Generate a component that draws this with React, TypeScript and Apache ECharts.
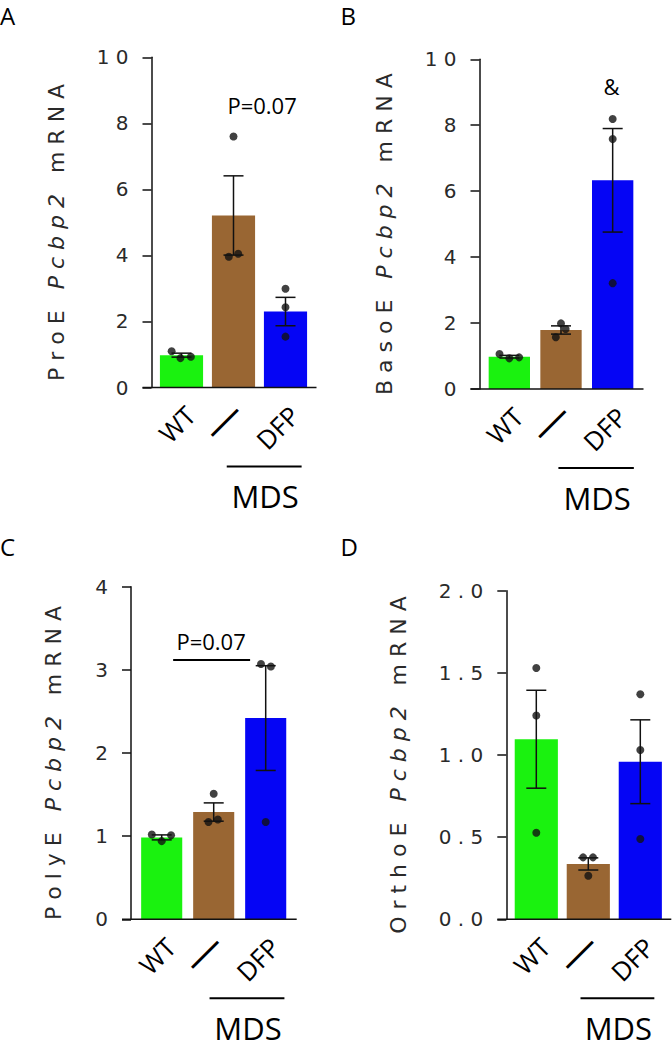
import React, { useEffect, useRef } from 'react';
import * as echarts from 'echarts';

// ---------- data ----------
const categories = ['WT', '—', 'DFP'];
const barColors = ['#1af20f', '#996633', '#0505f5'];
const panelLetters = ['A', 'B', 'C', 'D'];
const yTitlePrefix = ['ProE', 'BasoE', 'PolyE', 'OrthoE'];
const yMax = [10, 10, 4, 2];
const yInterval = [2, 2, 1, 0.5];
const yDecimals = [0, 0, 0, 1];

const meansA = [0.98, 5.21, 2.3];
const semsA = [0.06, 1.2, 0.43];
const dotsA = [[1.1, 0.89, 0.93], [7.6, 3.96, 4.05], [2.99, 2.43, 1.54]];
const jitterA = [[-0.19, -0.02, 0.18], [0, -0.09, 0.09], [0, 0, 0]];

const meansB = [0.98, 1.79, 6.33];
const semsB = [0.04, 0.125, 1.57];
const dotsB = [[1.06, 0.93, 0.96], [1.99, 1.82, 1.57], [8.19, 7.58, 3.21]];
const jitterB = [[-0.19, 0, 0.19], [0, 0.09, -0.1], [0, 0, 0]];

const meansC = [0.985, 1.29, 2.42];
const semsC = [0.03, 0.11, 0.63];
const dotsC = [[1.02, 0.94, 1.01], [1.51, 1.17, 1.2], [3.07, 3.04, 1.17]];
const jitterC = [[-0.19, 0, 0.18], [0, -0.1, 0.08], [-0.09, 0.1, 0]];

const meansD = [1.096, 0.337, 0.959];
const semsD = [0.298, 0.037, 0.255];
const dotsD = [[1.53, 1.24, 0.527], [0.377, 0.377, 0.265], [1.37, 1.03, 0.489]];
const jitterD = [[0, 0, 0], [-0.1, 0.09, 0], [0, 0, 0]];

const means = [meansA, meansB, meansC, meansD];
const sems = [semsA, semsB, semsC, semsD];
const dots = [dotsA, dotsB, dotsC, dotsD];
const jitters = [jitterA, jitterB, jitterC, jitterD];

// annotations (in axis units)
const mdsSpan = [[0.87, 2.31], [0.95, 2.41], [0.92, 2.36], [0.85, 2.27]];
const sigTexts = [
  { text: 'P=0.07', x: 1.55, y: 8.55 },
  { text: '&', x: 1.98, y: 9.2 },
  { text: 'P=0.07', x: 0.95, y: 3.345 },
  null,
];
const sigLines = [null, null, { x0: 0.22, x1: 1.7, y: 3.117 }, null];

// ---------- layout / style ----------
const grids = [
  { left: 155.5, top: 57.3, width: 156, height: 330.2, offset: 4, gap: '17%', nameGap: 84 },
  { left: 483.5, top: 59.3, width: 155, height: 329.7, offset: 4, gap: '20%', nameGap: 84 },
  { left: 135.7, top: 586.7, width: 156, height: 332.6, offset: 4.7, gap: '21%', nameGap: 67 },
  { left: 510.3, top: 590.7, width: 156, height: 328.6, offset: 4, gap: '17%', nameGap: 96.5 },
];
const letterPos = [[0, 15.8], [340.5, 15], [0, 546.8], [340.5, 546.3]];
const TICK = 9;
const CAP = 10;
const AXIS_COLOR = '#111';
const NBSP = '\u00A0';
const spaced = (s: string) => s.split('').join(NBSP);
const HUMAN = '"Open Sans", "Noto Sans", sans-serif';
const NUMF = '"DejaVu Sans", sans-serif';

function buildOption() {
  const xAxis: any[] = [];
  const yAxis: any[] = [];
  const series: any[] = [];
  const grid = grids.map((g) => ({ left: g.left, top: g.top, width: g.width, height: g.height }));

  for (let p = 0; p < 4; p++) {
    xAxis.push({
      type: 'category',
      gridIndex: p,
      data: categories,
      axisLine: { show: false },
      axisTick: { show: false },
      splitLine: { show: false },
      axisLabel: { show: false },
    });
  }
  for (let p = 0; p < 4; p++) {
    xAxis.push({ type: 'value', gridIndex: p, min: -0.5, max: 2.5, show: false });
  }
  for (let p = 0; p < 4; p++) {
    const g = grids[p];
    yAxis.push({
      type: 'value',
      gridIndex: p,
      min: 0,
      max: yMax[p],
      interval: yInterval[p],
      offset: g.offset,
      axisLine: { show: true, onZero: false, lineStyle: { color: AXIS_COLOR, width: 1.5 } },
      axisTick: { show: true, length: TICK, lineStyle: { color: AXIS_COLOR, width: 1.5 } },
      splitLine: { show: false },
      axisLabel: {
        margin: 23,
        fontFamily: NUMF,
        fontSize: 20,
        color: '#2a2a2a',
        padding: [9, 0, 0, 0],
        formatter: (v: number) => spaced(v.toFixed(yDecimals[p])),
      },
      name:
        `{r|${spaced(yTitlePrefix[p])}${NBSP}${NBSP}${NBSP}}` +
        `{i|${spaced('Pcbp2')}}` +
        `{r|${NBSP}${NBSP}${NBSP}${spaced('mRNA')}}`,
      nameLocation: 'middle',
      nameGap: g.nameGap,
      nameTextStyle: {
        padding: [0, 20, 0, 0],
        rich: {
          r: { fontFamily: NUMF, fontSize: 22, lineHeight: 22, color: '#2a2a2a' },
          i: { fontFamily: NUMF, fontSize: 22, lineHeight: 22, fontStyle: 'italic', color: '#2a2a2a' },
        },
      },
    });
  }

  for (let p = 0; p < 4; p++) {
    const g = grids[p];
    // bars
    series.push({
      type: 'bar',
      xAxisIndex: p,
      yAxisIndex: p,
      barCategoryGap: g.gap,
      z: 2,
      silent: true,
      data: means[p].map((m, i) => ({ value: m, itemStyle: { color: barColors[i] } })),
    });
    // error bars
    series.push({
      type: 'custom',
      xAxisIndex: 4 + p,
      yAxisIndex: p,
      z: 3,
      clip: false,
      silent: true,
      encode: { x: 0, y: 1 },
      data: means[p].map((m, i) => [i, m, sems[p][i]]),
      renderItem: (params: any, api: any) => {
        const x = api.value(0);
        const m = api.value(1);
        const s = api.value(2);
        const top = api.coord([x, m + s]);
        const bot = api.coord([x, m - s]);
        const st = { stroke: AXIS_COLOR, lineWidth: 1.5 };
        return {
          type: 'group',
          children: [
            { type: 'line', shape: { x1: top[0], y1: top[1], x2: bot[0], y2: bot[1] }, style: st },
            { type: 'line', shape: { x1: top[0] - CAP, y1: top[1], x2: top[0] + CAP, y2: top[1] }, style: st },
            { type: 'line', shape: { x1: bot[0] - CAP, y1: bot[1], x2: bot[0] + CAP, y2: bot[1] }, style: st },
          ],
        };
      },
    });
    // dots
    const pts: number[][] = [];
    dots[p].forEach((arr, i) => arr.forEach((v, k) => pts.push([i + jitters[p][i][k], v])));
    series.push({
      type: 'scatter',
      xAxisIndex: 4 + p,
      yAxisIndex: p,
      z: 4,
      silent: true,
      symbol: 'circle',
      symbolSize: 8,
      itemStyle: { color: '#111' },
      data: pts,
    });
    // annotations: baseline, category labels, MDS bracket, significance marks
    series.push({
      type: 'custom',
      xAxisIndex: 4 + p,
      yAxisIndex: p,
      z: 5,
      clip: false,
      silent: true,
      encode: { x: 0, y: 1 },
      data: [[0, 0]],
      renderItem: (params: any, api: any) => {
        const b0 = api.coord([-0.5, 0]);
        const b1 = api.coord([2.5, 0]);
        const y0 = b0[1];
        const children: any[] = [
          {
            type: 'line',
            shape: { x1: b0[0] - g.offset - TICK, y1: y0, x2: b1[0] + 5, y2: y0 },
            style: { stroke: AXIS_COLOR, lineWidth: 1.5 },
          },
        ];
        categories.forEach((cat, i) => {
          const cx = api.coord([i, 0])[0];
          if (cat === '—') {
            children.push({
              type: 'text',
              x: cx - 12,
              y: y0 + 32,
              rotation: Math.PI / 4,
              style: {
                text: cat, fill: '#000', fontSize: 40, fontFamily: HUMAN,
                align: 'center', verticalAlign: 'middle',
              },
            });
          } else {
            children.push({
              type: 'text',
              x: cx + 9,
              y: y0 + 23,
              rotation: Math.PI / 4,
              style: {
                text: cat, fill: '#000', fontSize: 26, fontFamily: HUMAN,
                align: 'right', verticalAlign: 'middle',
              },
            });
          }
        });
        const xs = api.coord([mdsSpan[p][0], 0])[0];
        const xe = api.coord([mdsSpan[p][1], 0])[0];
        children.push({
          type: 'line',
          shape: { x1: xs, y1: y0 + 79, x2: xe, y2: y0 + 79 },
          style: { stroke: '#000', lineWidth: 2 },
        });
        children.push({
          type: 'text',
          x: (xs + xe) / 2 + 1,
          y: y0 + 108.5,
          style: {
            text: 'MDS', fill: '#000', fontSize: 31, fontFamily: HUMAN,
            align: 'center', verticalAlign: 'middle',
          },
        });
        const st = sigTexts[p];
        if (st) {
          const c = api.coord([st.x, st.y]);
          children.push({
            type: 'text', x: c[0], y: c[1],
            style: {
              text: st.text, fill: '#000', fontSize: 22, fontFamily: HUMAN,
              align: 'center', verticalAlign: 'middle',
            },
          });
        }
        const sl = sigLines[p];
        if (sl) {
          const a = api.coord([sl.x0, sl.y]);
          const b = api.coord([sl.x1, sl.y]);
          children.push({
            type: 'line',
            shape: { x1: a[0], y1: a[1], x2: b[0], y2: b[1] },
            style: { stroke: '#000', lineWidth: 2 },
          });
        }
        return { type: 'group', children };
      },
    });
  }

  const graphic = panelLetters.map((t, i) => ({
    type: 'text',
    x: letterPos[i][0],
    y: letterPos[i][1],
    style: {
      text: t, fill: '#000', fontSize: 24, fontFamily: HUMAN,
      align: 'left', verticalAlign: 'middle',
    },
  }));

  return {
    animation: false,
    backgroundColor: '#fff',
    grid,
    xAxis,
    yAxis,
    series,
    graphic,
  };
}

export default function App() {
  const ref = useRef<HTMLDivElement>(null);
  useEffect(() => {
    document.body.style.margin = '0';
    if (!ref.current) return;
    const chart = echarts.init(ref.current, undefined, { renderer: 'svg' });
    chart.setOption(buildOption() as any);
    return () => chart.dispose();
  }, []);
  return (
    <div
      ref={ref}
      style={{ position: 'absolute', left: 0, top: 0, width: 672, height: 1040, background: '#fff' }}
    />
  );
}
